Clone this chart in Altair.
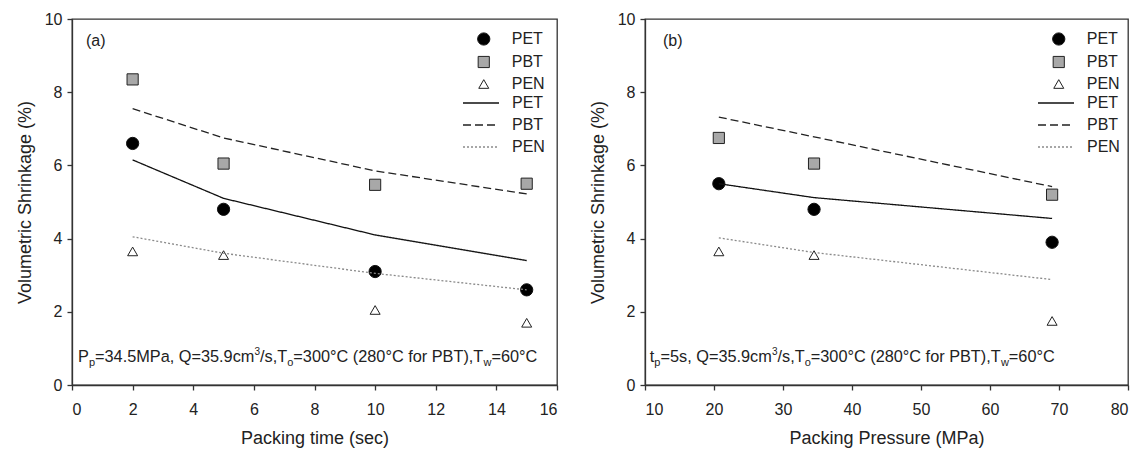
import altair as alt
import pandas as pd

# ---------------- data ----------------
series = ["PET", "PBT", "PEN"]
model_series = ["PET model", "PBT model", "PEN model"]

a_x = [2, 5, 10, 15]
a_pet_pts = [6.6, 4.8, 3.1, 2.6]
a_pbt_pts = [8.35, 6.05, 5.47, 5.5]
a_pen_pts = [3.65, 3.55, 2.05, 1.7]
a_pet_line = [6.15, 5.1, 4.1, 3.4]
a_pbt_line = [7.55, 6.75, 5.85, 5.22]
a_pen_line = [4.05, 3.6, 3.05, 2.6]

b_x = [20.7, 34.5, 69]
b_pet_pts = [5.5, 4.8, 3.9]
b_pbt_pts = [6.75, 6.05, 5.2]
b_pen_pts = [3.65, 3.55, 1.75]
b_pet_line = [5.5, 5.12, 4.55]
b_pbt_line = [7.32, 6.78, 5.42]
b_pen_line = [4.02, 3.62, 2.88]

a_note = [("P", "main"), ("p", "sub"), ("=34.5MPa, Q=35.9cm", "main"), ("3", "sup"),
          ("/s,T", "main"), ("o", "sub"), ("=300°C (280°C for PBT),T", "main"),
          ("w", "sub"), ("=60°C", "main")]
b_note = [("t", "main"), ("p", "sub"), ("=5s, Q=35.9cm", "main"), ("3", "sup"),
          ("/s,T", "main"), ("o", "sub"), ("=300°C (280°C for PBT),T", "main"),
          ("w", "sub"), ("=60°C", "main")]

FONT = "Liberation Sans"
INK = "#222222"
W_A, W_B, H = 485, 483, 366
MAIN_FS, SUB_FS, SUP_FS = 16.3, 11, 10
PT_SIZES = [150, 100, 125]
LINE_SYM = 144              # legend line sample: path "M-3,0H3" scaled by sqrt(size)/2

# Arial / Liberation Sans advance widths (per 1000 em)
ADV = {' ': 278, ',': 278, '.': 278, '/': 278, '=': 584, '(': 333, ')': 333, '°': 400,
       'A': 667, 'B': 667, 'C': 722, 'M': 833, 'N': 722, 'P': 667, 'Q': 778, 'T': 611,
       'a': 556, 'c': 500, 'f': 278, 'm': 833, 'o': 556, 'p': 556, 'r': 333, 's': 500,
       't': 278, 'w': 722}
for d in "0123456789":
    ADV[d] = 556
FS = {"main": MAIN_FS, "sub": SUB_FS, "sup": SUP_FS}


def note_df(segs, x0, y0, px_per_unit):
    rows, off = [], 0.0
    for txt, kind in segs:
        rows.append({"x": x0 + off / px_per_unit, "y": y0, "t": txt, "kind": kind})
        off += sum(ADV.get(c, 556) for c in txt) * FS[kind] / 1000.0
    return pd.DataFrame(rows)


def panel(xs, pts, lines, xdom, xticks, xtitle, width, tag, tag_pos, segs, note_pos, label_right):
    pts_df = pd.DataFrame([{"x": x, "y": v, "sym": s}
                           for s, vals in zip(series, pts) for x, v in zip(xs, vals)])
    ln_df = pd.DataFrame([{"x": x, "y": v, "ln": s}
                          for s, vals in zip(model_series, lines) for x, v in zip(xs, vals)])
    xsc = alt.Scale(domain=xdom, nice=False, zero=False)
    ysc = alt.Scale(domain=[0, 10], nice=False)
    xax = alt.Axis(values=xticks, title=xtitle, grid=False)
    yax = alt.Axis(values=[0, 2, 4, 6, 8, 10], title="Volumetric Shrinkage (%)", grid=False)

    label_x = width - label_right
    col = LINE_SYM ** 0.5
    ln_leg = alt.Legend(title=None, orient="none", legendX=label_x - 23 - col, legendY=76,
                        labelFontSize=16, labelOffset=23, rowPadding=6,
                        symbolType="M-3,0H3", symbolSize=LINE_SYM,
                        symbolStrokeWidth=1.3, labelColor=INK,
                        labelExpr="split(datum.label, ' ')[0]")
    lines_l = alt.Chart(ln_df).mark_line(strokeWidth=1.3).encode(
        x=alt.X("x:Q", scale=xsc, axis=xax),
        y=alt.Y("y:Q", scale=ysc, axis=yax),
        strokeDash=alt.StrokeDash("ln:N", scale=alt.Scale(domain=model_series,
                                                          range=[[1, 0], [8, 4], [2, 2]]),
                                  legend=ln_leg),
        color=alt.Color("ln:N", scale=alt.Scale(domain=model_series,
                                                range=["#111111", "#222222", "#8a8a8a"]),
                        legend=ln_leg),
    )
    circ = max(PT_SIZES) ** 0.5
    sym_leg = alt.Legend(title=None, orient="none", legendX=label_x - 20 - circ, legendY=12,
                         labelFontSize=16, labelOffset=20, rowPadding=6,
                         symbolStrokeWidth=1, labelColor=INK)
    pts_l = alt.Chart(pts_df).mark_point(strokeWidth=1, opacity=1).encode(
        x="x:Q", y="y:Q",
        shape=alt.Shape("sym:N", scale=alt.Scale(domain=series, range=["circle", "square", "triangle-up"]),
                        legend=sym_leg),
        fill=alt.Fill("sym:N", scale=alt.Scale(domain=series, range=["#000000", "#a8a8a8", "#ffffff"]),
                      legend=sym_leg),
        stroke=alt.Stroke("sym:N", scale=alt.Scale(domain=series, range=["#111111", "#222222", "#222222"]),
                          legend=sym_leg),
        size=alt.Size("sym:N", scale=alt.Scale(domain=series, range=PT_SIZES), legend=sym_leg),
    )
    tag_df = pd.DataFrame([{"x": tag_pos[0], "y": tag_pos[1], "t": tag}])
    tag_l = alt.Chart(tag_df).mark_text(font=FONT, fontSize=16, align="left", baseline="alphabetic",
                                        color=INK).encode(x="x:Q", y="y:Q", text="t:N")
    ppu = width / (xdom[1] - xdom[0])
    nd = note_df(segs, note_pos[0], note_pos[1], ppu)
    note_layers = []
    for kind, dy in (("main", 0), ("sub", 4), ("sup", -7)):
        note_layers.append(
            alt.Chart(nd[nd.kind == kind]).mark_text(font=FONT, fontSize=FS[kind], align="left",
                                                      baseline="alphabetic", dy=dy, color=INK)
            .encode(x="x:Q", y="y:Q", text="t:N"))
    return alt.layer(pts_l, lines_l, tag_l, *note_layers).properties(width=width, height=H)


pa = panel(a_x, [a_pet_pts, a_pbt_pts, a_pen_pts], [a_pet_line, a_pbt_line, a_pen_line],
           [0, 16], list(range(0, 17, 2)), "Packing time (sec)", W_A, "(a)", (0.46, 9.27),
           a_note, (0.2, 0.64), 49)
pb = panel(b_x, [b_pet_pts, b_pbt_pts, b_pen_pts], [b_pet_line, b_pbt_line, b_pen_line],
           [10, 80], list(range(10, 81, 10)), "Packing Pressure (MPa)", W_B, "(b)", (12.6, 9.27),
           b_note, (10.7, 0.64), 45)

chans = ["shape", "fill", "size", "stroke", "color", "strokeDash"]
chart = alt.hconcat(pa, pb, spacing=29).resolve_scale(
    **{c: "independent" for c in chans}).resolve_legend(**{c: "independent" for c in chans}).properties(
    padding={"left": 15, "top": 10, "right": 0, "bottom": 0},
    background="white",
).configure_view(stroke="#333333", strokeWidth=1.3).configure_axis(
    domainColor="#333333", domainWidth=1.3, tickColor="#333333", tickWidth=1.3, tickSize=5,
    labelFont=FONT, titleFont=FONT, labelFontSize=16, titleFontSize=18, labelColor=INK,
    titleColor=INK, titleFontWeight="normal",
).configure_axisX(labelPadding=11, titlePadding=12).configure_axisY(labelPadding=5, titlePadding=10
).configure_legend(labelFont=FONT)

chart.save("out.html", embed_options={"renderer": "svg", "actions": False})
